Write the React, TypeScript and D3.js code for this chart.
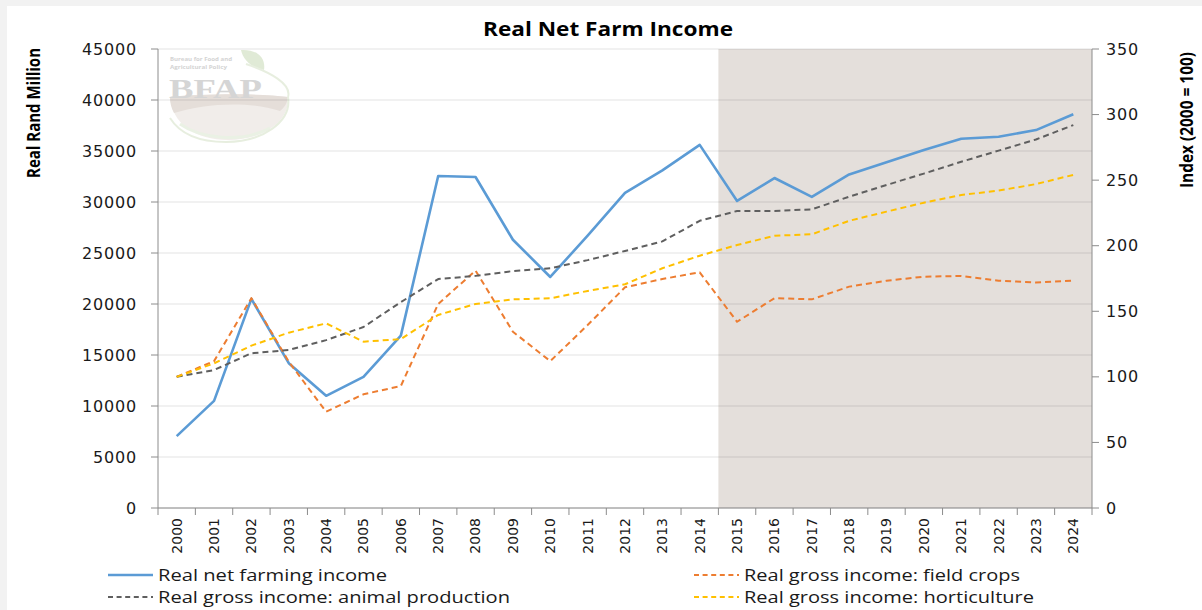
import React from "react";
import * as d3 from "d3";

// Years on the category axis
const years = [
  "2000", "2001", "2002", "2003", "2004", "2005", "2006", "2007", "2008",
  "2009", "2010", "2011", "2012", "2013", "2014", "2015", "2016", "2017",
  "2018", "2019", "2020", "2021", "2022", "2023", "2024",
];

// Real net farming income, Real Rand Million (left axis)
const netIncome = [
  7050, 10500, 20500, 14200, 11000, 12850, 16900, 32550, 32450, 26300, 22650,
  26700, 30900, 33100, 35600, 30100, 32350, 30500, 32700, 33900, 35100, 36200,
  36400, 37050, 38600,
];

// Index series, 2000 = 100 (right axis)
const fieldCrops = [
  100, 112, 160, 111.6, 73.4, 86.7, 93, 155.6, 181, 134.4, 112, 139.5, 168.3,
  174.6, 179.7, 142, 160, 159.1, 168.8, 173.3, 176.4, 176.9, 173.3, 172, 173.3,
];
const animalProduction = [
  100, 105.2, 118, 120.5, 128, 138, 157, 174.6, 177, 180.7, 182.8, 189, 196,
  203.3, 219, 226.5, 226.5, 227.7, 237.4, 246.3, 255, 264, 272.5, 281, 292,
];
const horticulture = [
  100, 110.3, 123.8, 133.7, 140.8, 126.8, 128.8, 147.2, 155.6, 159.1, 159.9,
  165.5, 170.6, 182.8, 192.4, 200.5, 207.6, 208.7, 219, 226, 232.8, 238.7, 242,
  247, 254,
];

const leftTicks = [0, 5000, 10000, 15000, 20000, 25000, 30000, 35000, 40000, 45000];
const rightTicks = [0, 50, 100, 150, 200, 250, 300, 350];
const forecastStart = "2015";

const W = 1202;
const H = 610;
const plot = { left: 158, right: 1092, top: 49, bottom: 508 };

const tickFont = "'DejaVu Sans', sans-serif";
const textFont = "'Open Sans', sans-serif";

const App: React.FC = () => {
  const x = d3.scaleBand<string>().domain(years).range([plot.left, plot.right]).padding(0);
  const yL = d3.scaleLinear().domain([0, 45000]).range([plot.bottom, plot.top]);
  const yR = d3.scaleLinear().domain([0, 350]).range([plot.bottom, plot.top]);
  const cx = (yr: string) => (x(yr) as number) + x.bandwidth() / 2;

  const lineL = d3
    .line<number>()
    .x((_, i) => cx(years[i]))
    .y((d) => yL(d));
  const lineR = d3
    .line<number>()
    .x((_, i) => cx(years[i]))
    .y((d) => yR(d));

  const series = [
    { name: "Real net farming income", d: lineL(netIncome), color: "#5b9bd5", dash: "", w: 2.6 },
    { name: "Real gross income: field crops", d: lineR(fieldCrops), color: "#ed7d31", dash: "6,4", w: 2 },
    { name: "Real gross income: animal production", d: lineR(animalProduction), color: "#5f5f5f", dash: "6,4", w: 2 },
    { name: "Real gross income: horticulture", d: lineR(horticulture), color: "#ffc000", dash: "6,4", w: 2 },
  ];

  const shadeX = x(forecastStart) as number;
  const axisColor = "#8c8c8c";

  // legend layout (text widths match the stretched look of the original)
  const legend = [
    { s: series[0], lx: 108, ly: 575, tw: 229 },
    { s: series[1], lx: 694, ly: 575, tw: 276 },
    { s: series[2], lx: 108, ly: 597, tw: 352 },
    { s: series[3], lx: 694, ly: 597, tw: 290 },
  ];

  return (
    <svg
      width={W}
      height={H}
      style={{ position: "absolute", left: 0, top: 0, display: "block" }}
    >
      <rect x={0} y={0} width={W} height={H} fill="#f2f2f2" />
      <rect x={7} y={6} width={W - 7} height={H - 6} fill="#ffffff" />

      {/* Forecast shading */}
      <rect
        x={shadeX}
        y={plot.top}
        width={plot.right - shadeX}
        height={plot.bottom - plot.top}
        fill="#e4dfdb"
      />

      {/* Watermark logo */}
      <g opacity={0.8}>
        <path
          d="M170,97 C200,94 255,93 288,97 C290,122 262,140 228,140 C196,140 172,124 170,97 Z"
          fill="#eee9e5"
        />
        <path
          d="M170,97 C205,94 255,93 288,97 C287,104 284,108 280,111 C250,101 205,103 174,113 C171,108 170,102 170,97 Z"
          fill="#dfd6d0"
        />
        <path
          d="M180,124 C200,138 240,144 270,128"
          fill="none"
          stroke="#e6eede"
          strokeWidth={3}
        />
        <path
          d="M288,97 C292,122 262,142 226,142 C200,142 180,134 170,118"
          fill="none"
          stroke="#e2ebd8"
          strokeWidth={2}
        />
        <path
          d="M241,50 C256,49 266,57 264,70 C252,68 243,60 241,50 Z"
          fill="#d9e6cc"
        />
        <path
          d="M246,64 C270,72 292,84 288,97"
          fill="none"
          stroke="#e2ebd8"
          strokeWidth={2}
        />
        <text
          x={170}
          y={60.5}
          fontFamily={textFont}
          fontSize={5.8}
          fontWeight={700}
          fill="#c9c9c9"
          textLength={62}
          lengthAdjust="spacingAndGlyphs"
        >
          Bureau for Food and
        </text>
        <text
          x={170}
          y={68.5}
          fontFamily={textFont}
          fontSize={5.8}
          fontWeight={700}
          fill="#c9c9c9"
          textLength={57}
          lengthAdjust="spacingAndGlyphs"
        >
          Agricultural Policy
        </text>
        <text
          x={169}
          y={98}
          fontFamily="'Liberation Serif', 'DejaVu Serif', serif"
          fontSize={28}
          fontWeight={700}
          fill="#cbcbcb"
          textLength={93}
          lengthAdjust="spacingAndGlyphs"
        >
          BFAP
        </text>
      </g>

      {/* Gridlines */}
      {leftTicks.map((t) => (
        <line
          key={`g${t}`}
          x1={plot.left}
          x2={plot.right}
          y1={yL(t)}
          y2={yL(t)}
          stroke="rgba(0,0,0,0.11)"
          strokeWidth={1.2}
        />
      ))}

      {/* Left axis */}
      <line x1={plot.left} x2={plot.left} y1={plot.top} y2={plot.bottom} stroke={axisColor} />
      {leftTicks.map((t) => (
        <g key={`l${t}`}>
          <line x1={plot.left - 7} x2={plot.left} y1={yL(t)} y2={yL(t)} stroke={axisColor} />
          <text
            x={plot.left - 21}
            y={yL(t)}
            dy="0.35em"
            textAnchor="end"
            fontFamily={tickFont}
            fontSize={16}
            letterSpacing={0.8}
            fill="#1a1a1a"
          >
            {t}
          </text>
        </g>
      ))}

      {/* Right axis */}
      <line x1={plot.right} x2={plot.right} y1={plot.top} y2={plot.bottom} stroke={axisColor} />
      {rightTicks.map((t) => (
        <g key={`r${t}`}>
          <line x1={plot.right} x2={plot.right + 7} y1={yR(t)} y2={yR(t)} stroke={axisColor} />
          <text
            x={plot.right + 14}
            y={yR(t)}
            dy="0.35em"
            textAnchor="start"
            fontFamily={tickFont}
            fontSize={16}
            letterSpacing={0.8}
            fill="#1a1a1a"
          >
            {t}
          </text>
        </g>
      ))}

      {/* Bottom axis */}
      <line x1={plot.left} x2={plot.right} y1={plot.bottom} y2={plot.bottom} stroke={axisColor} />
      {years.map((yr) => (
        <line
          key={`t${yr}`}
          x1={x(yr) as number}
          x2={x(yr) as number}
          y1={plot.bottom}
          y2={plot.bottom + 7}
          stroke={axisColor}
        />
      ))}
      <line
        x1={plot.right}
        x2={plot.right}
        y1={plot.bottom}
        y2={plot.bottom + 7}
        stroke={axisColor}
      />
      {years.map((yr) => (
        <text
          key={`x${yr}`}
          transform={`translate(${cx(yr)},${plot.bottom + 10}) rotate(-90)`}
          dy="0.35em"
          textAnchor="end"
          fontFamily={tickFont}
          fontSize={14}
          fill="#1a1a1a"
        >
          {yr}
        </text>
      ))}

      {/* Series */}
      {series.map((s) => (
        <path
          key={s.name}
          d={s.d ?? ""}
          fill="none"
          stroke={s.color}
          strokeWidth={s.w}
          strokeDasharray={s.dash || undefined}
          strokeLinejoin="round"
        />
      ))}

      {/* Titles */}
      <text
        x={608}
        y={29}
        dy="0.35em"
        textAnchor="middle"
        fontFamily={textFont}
        fontSize={20}
        fontWeight={700}
        fill="#000"
        textLength={250}
        lengthAdjust="spacingAndGlyphs"
      >
        Real Net Farm Income
      </text>
      <text
        transform="translate(34,113) rotate(-90)"
        dy="0.35em"
        textAnchor="middle"
        fontFamily={textFont}
        fontSize={17}
        fontWeight={700}
        fill="#000"
        textLength={130}
        lengthAdjust="spacingAndGlyphs"
      >
        Real Rand Million
      </text>
      <text
        transform="translate(1187,120) rotate(-90)"
        dy="0.35em"
        textAnchor="middle"
        fontFamily={textFont}
        fontSize={17}
        fontWeight={700}
        fill="#000"
        textLength={136}
        lengthAdjust="spacingAndGlyphs"
      >
        Index (2000 = 100)
      </text>

      {/* Legend */}
      {legend.map(({ s, lx, ly, tw }) => (
        <g key={`lg${s.name}`}>
          <line
            x1={lx}
            x2={lx + 45}
            y1={ly}
            y2={ly}
            stroke={s.color}
            strokeWidth={s.w}
            strokeDasharray={s.dash ? "5,3.6" : undefined}
          />
          <text
            x={lx + 50}
            y={ly}
            dy="0.35em"
            fontFamily={textFont}
            fontSize={16}
            fill="#1a1a1a"
            textLength={tw}
            lengthAdjust="spacingAndGlyphs"
          >
            {s.name}
          </text>
        </g>
      ))}
    </svg>
  );
};

export default App;
